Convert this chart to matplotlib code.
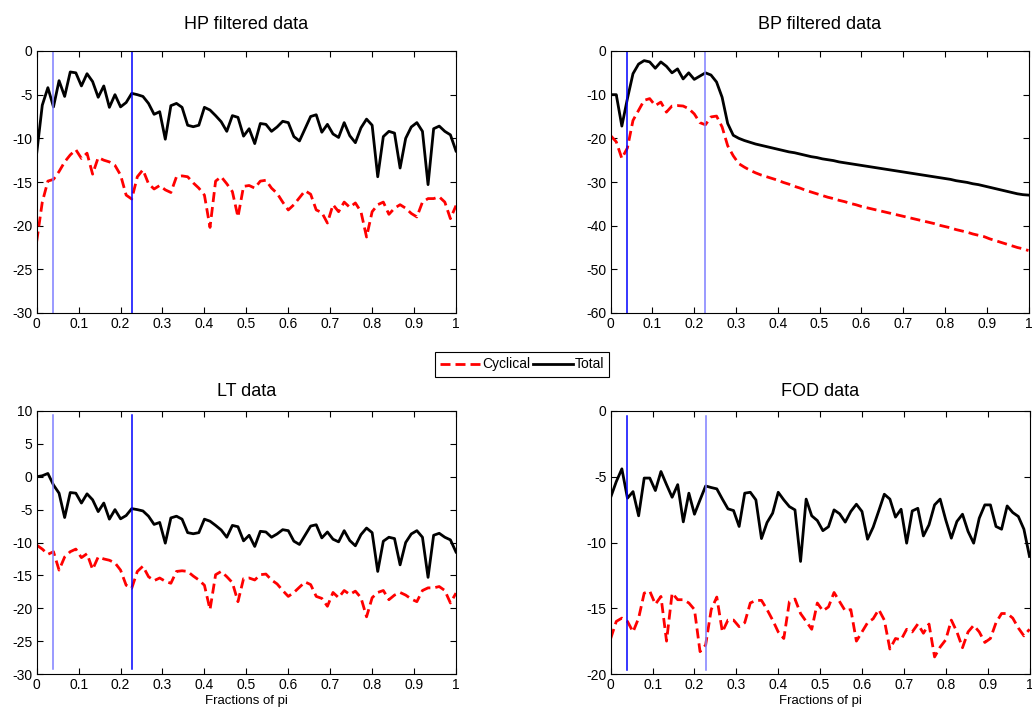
import numpy as np
import matplotlib
matplotlib.use("Agg")
import matplotlib.pyplot as plt
from matplotlib.lines import Line2D

plt.rcParams['font.family'] = ['Liberation Sans', 'DejaVu Sans']
plt.rcParams['axes.unicode_minus'] = False

# frequency grid (fractions of pi), 76 points
freq = np.linspace(0, 1, 76)
band_low = 0.04
band_high = 0.2267

hp_total = [-11.7, -6.2, -4.2, -6.4, -3.4, -5.2, -2.4, -2.5, -4.0, -2.6,
            -3.5, -5.3, -4.0, -6.45, -5.0, -6.4, -5.9, -4.85, -5.0, -5.2,
            -6.0, -7.25, -6.95, -10.1, -6.26, -6.0, -6.45, -8.5, -8.67, -8.5,
            -6.45, -6.76, -7.4, -8.1, -9.2, -7.4, -7.6, -9.75, -8.9, -10.6,
            -8.3, -8.4, -9.2, -8.7, -8.05, -8.2, -9.8, -10.3, -8.9, -7.5,
            -7.3, -9.3, -8.4, -9.5, -9.9, -8.2, -9.7, -10.5, -8.8, -7.8,
            -8.5, -14.4, -9.8, -9.2, -9.4, -13.4, -10.0, -8.7, -8.2, -9.2,
            -15.3, -8.9, -8.6, -9.2, -9.6, -11.45]
hp_cycl = [-21.8, -17.3, -14.9, -14.7, -13.8, -12.7, -11.9, -11.3, -12.3, -11.7,
           -14.1, -12.2, -12.5, -12.7, -13.1, -14.2, -16.5, -16.95, -14.4, -13.6,
           -15.2, -15.8, -15.4, -15.9, -16.2, -14.4, -14.3, -14.4, -15.1, -15.7,
           -16.5, -20.2, -14.9, -14.4, -15.2, -16.1, -19.0, -15.5, -15.4, -15.7,
           -14.9, -14.8, -15.7, -16.3, -17.3, -18.2, -17.6, -16.8, -16.0, -16.4,
           -18.2, -18.5, -19.7, -17.6, -18.4, -17.3, -17.9, -17.4, -18.4, -21.3,
           -18.4, -17.6, -17.3, -18.7, -18.0, -17.6, -18.0, -18.6, -19.0, -17.3,
           -16.9, -16.9, -16.7, -17.3, -19.2, -17.7]

bp_total = [-10.0, -10.0, -17.2, -10.9, -5.2, -3.0, -2.2, -2.5, -3.95, -2.5,
            -3.5, -5.0, -4.1, -6.4, -5.0, -6.5, -5.75, -5.0, -5.5, -7.1,
            -10.6, -16.6, -19.3, -20.0, -20.5, -20.9, -21.3, -21.6, -21.9, -22.2,
            -22.5, -22.8, -23.1, -23.3, -23.6, -23.9, -24.2, -24.4, -24.7, -24.9,
            -25.1, -25.4, -25.6, -25.8, -26.0, -26.2, -26.4, -26.6, -26.8, -27.0,
            -27.2, -27.4, -27.6, -27.8, -28.0, -28.2, -28.4, -28.6, -28.8, -29.0,
            -29.2, -29.4, -29.7, -29.9, -30.1, -30.4, -30.6, -30.9, -31.2, -31.5,
            -31.8, -32.1, -32.4, -32.7, -32.9, -33.0]
bp_cycl = [-19.4, -20.8, -24.6, -22.2, -15.9, -13.6, -11.3, -10.9, -12.5, -11.7,
           -14.0, -12.6, -12.5, -12.6, -13.2, -14.4, -16.4, -16.9, -15.1, -14.9,
           -17.4, -21.7, -24.0, -25.8, -26.6, -27.3, -27.9, -28.4, -28.8, -29.2,
           -29.6, -30.1, -30.5, -31.0, -31.4, -31.9, -32.3, -32.7, -33.1, -33.5,
           -33.8, -34.2, -34.5, -34.9, -35.2, -35.6, -35.9, -36.2, -36.5, -36.8,
           -37.1, -37.4, -37.7, -38.0, -38.3, -38.6, -38.9, -39.2, -39.5, -39.9,
           -40.2, -40.5, -40.9, -41.2, -41.5, -41.9, -42.2, -42.5, -43.0, -43.4,
           -43.8, -44.2, -44.6, -45.0, -45.3, -45.7]

lt_total = [0.0, 0.15, 0.5, -1.25, -2.5, -6.2, -2.4, -2.5, -4.0, -2.6,
            -3.5, -5.3, -4.0, -6.45, -5.0, -6.4, -5.9, -4.85, -5.0, -5.2,
            -6.0, -7.25, -6.95, -10.1, -6.26, -6.0, -6.45, -8.5, -8.67, -8.5,
            -6.45, -6.76, -7.4, -8.1, -9.2, -7.4, -7.6, -9.75, -8.9, -10.6,
            -8.3, -8.4, -9.2, -8.7, -8.05, -8.2, -9.8, -10.3, -8.9, -7.5,
            -7.3, -9.3, -8.4, -9.5, -9.9, -8.2, -9.7, -10.5, -8.8, -7.8,
            -8.5, -14.4, -9.8, -9.2, -9.4, -13.4, -10.0, -8.7, -8.2, -9.2,
            -15.3, -8.9, -8.6, -9.2, -9.6, -11.45]
lt_cycl = [-10.4, -11.0, -11.8, -11.4, -14.2, -12.2, -11.4, -11.0, -12.3, -11.7,
           -14.1, -12.2, -12.5, -12.7, -13.1, -14.2, -16.5, -16.95, -14.4, -13.6,
           -15.2, -15.8, -15.4, -15.9, -16.2, -14.4, -14.3, -14.4, -15.1, -15.7,
           -16.5, -20.2, -14.9, -14.4, -15.2, -16.1, -19.0, -15.5, -15.4, -15.7,
           -14.9, -14.8, -15.7, -16.3, -17.3, -18.2, -17.6, -16.8, -16.0, -16.4,
           -18.2, -18.5, -19.7, -17.6, -18.4, -17.3, -17.9, -17.4, -18.4, -21.3,
           -18.4, -17.6, -17.3, -18.7, -18.0, -17.6, -18.0, -18.6, -19.0, -17.3,
           -16.9, -16.9, -16.7, -17.3, -19.2, -17.7]

fod_total = [-6.56, -5.37, -4.4, -6.63, -6.13, -7.97, -5.1, -5.1, -6.05, -4.6,
             -5.6, -6.56, -5.6, -8.43, -6.25, -7.85, -6.76, -5.7, -5.82, -5.92,
             -6.7, -7.44, -7.57, -8.78, -6.25, -6.18, -6.76, -9.7, -8.48, -7.77,
             -6.18, -6.76, -7.27, -7.52, -11.44, -6.7, -7.97, -8.33, -9.1, -8.8,
             -7.52, -7.82, -8.45, -7.64, -7.09, -7.64, -9.75, -8.84, -7.6, -6.33,
             -6.7, -8.07, -7.47, -10.05, -7.6, -7.4, -9.5, -8.66, -7.14, -6.7,
             -8.28, -9.67, -8.4, -7.85, -9.16, -10.05, -8.15, -7.14, -7.14, -8.78,
             -8.99, -7.22, -7.72, -8.02, -8.99, -11.06]
fod_cycl = [-17.3, -16.0, -15.75, -16.0, -16.8, -15.75, -13.85, -13.7, -14.7, -14.1,
            -17.5, -13.85, -14.35, -14.35, -14.6, -15.1, -18.3, -17.8, -15.1, -14.15,
            -16.8, -15.9, -15.9, -16.4, -16.1, -14.6, -14.4, -14.4, -15.1, -15.9,
            -16.8, -17.3, -14.5, -14.3, -15.4, -16.0, -16.6, -14.6, -15.2, -14.9,
            -13.8, -14.5, -15.2, -15.1, -17.5, -16.8, -16.1, -15.8, -15.1, -15.9,
            -18.1, -17.3, -17.4, -16.6, -16.8, -16.2, -16.9, -16.2, -18.7, -17.95,
            -17.4, -15.9, -16.8, -18.0, -16.8, -16.3, -16.8, -17.6, -17.3, -16.1,
            -15.4, -15.4, -15.75, -16.5, -17.1, -16.6]

xtick_vals = [0, 0.1, 0.2, 0.3, 0.4, 0.5, 0.6, 0.7, 0.8, 0.9, 1]
xtick_labels = ['0', '0.1', '0.2', '0.3', '0.4', '0.5', '0.6', '0.7', '0.8', '0.9', '1']

dark_blue = '#0000ff'
light_blue = '#7f7fff'

fig = plt.figure(figsize=(10.32, 7.19), dpi=100)
W, H = 1032, 719


def panel(rect, title, total, cycl, ylim, ystep, vspan, colors, pad, xlabel=False):
    l, t, r, b = rect
    ax = fig.add_axes([l / W, 1 - b / H, (r - l) / W, (b - t) / H])
    ax.plot(freq, cycl, color='red', lw=2.0, dashes=(3.6, 1.8))
    ax.plot(freq, total, color='black', lw=2.0)
    ax.plot([band_low, band_low], vspan, color=colors[0], lw=1.1)
    ax.plot([band_high, band_high], vspan, color=colors[1], lw=1.1)
    ax.set_xlim(0, 1)
    ax.set_ylim(ylim)
    ax.set_xticks(xtick_vals)
    ax.set_xticklabels(xtick_labels)
    ax.set_yticks(np.arange(ylim[0], ylim[1] + 0.1, ystep))
    ax.tick_params(direction='in', top=True, right=True, length=4, width=0.8,
                   labelsize=10, pad=3)
    for s in ax.spines.values():
        s.set_linewidth(0.8)
    ax.set_title(title, fontsize=13, pad=pad)
    if xlabel:
        ax.set_xlabel('Fractions of pi', fontsize=9.5, labelpad=2)
    return ax


panel((36.7, 51, 456, 313), 'HP filtered data', hp_total, hp_cycl, (-30, 0), 5,
      (-30, 0), (light_blue, dark_blue), 16)
panel((610.7, 51, 1028.5, 313), 'BP filtered data', bp_total, bp_cycl, (-60, 0), 10,
      (-60, 0), (dark_blue, light_blue), 16)
panel((36.7, 411, 456, 674), 'LT data', lt_total, lt_cycl, (-30, 10), 5,
      (-29.2, 9.4), (light_blue, dark_blue), 11, xlabel=True)
panel((610.7, 411, 1029.5, 674), 'FOD data', fod_total, fod_cycl, (-20, 0), 5,
      (-19.7, -0.4), (dark_blue, light_blue), 11, xlabel=True)

handles = [Line2D([], [], color='red', lw=2.0, dashes=(3.6, 1.8)),
           Line2D([], [], color='black', lw=2.0)]
leg = fig.legend(handles, ['Cyclical', 'Total'], loc='center',
                 bbox_to_anchor=(522 / W, 1 - 364.5 / H), ncol=2,
                 handlelength=2.9, handletextpad=0.1, columnspacing=0.2,
                 fontsize=10, fancybox=False, edgecolor='black', framealpha=1,
                 borderpad=0.4, borderaxespad=0)
leg.get_frame().set_linewidth(0.8)

fig.savefig('out.png', dpi=100)
